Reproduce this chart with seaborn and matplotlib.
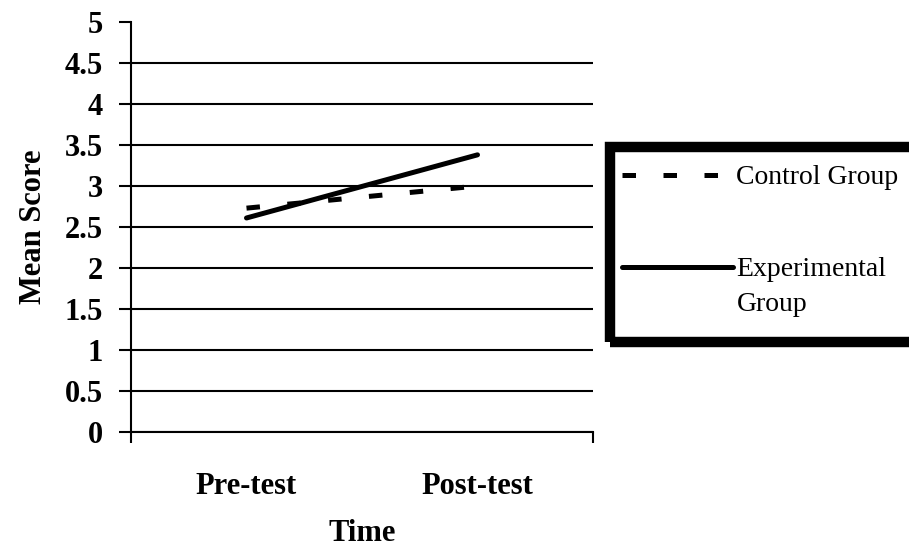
import matplotlib
matplotlib.use("Agg")
import matplotlib.pyplot as plt
from matplotlib.patches import Rectangle
import pandas as pd
import seaborn as sns

# Mean scores per group at each time point
times = ["Pre-test", "Post-test"]
control_scores = [2.73, 3.00]
experimental_scores = [2.61, 3.38]
groups = ["Control Group", "Experimental Group"]
y_ticks = [0, 0.5, 1, 1.5, 2, 2.5, 3, 3.5, 4, 4.5, 5]
y_tick_labels = ["0", "0.5", "1", "1.5", "2", "2.5", "3", "3.5", "4", "4.5", "5"]

df = pd.DataFrame({
    "Time": times * 2,
    "Mean Score": control_scores + experimental_scores,
    "Group": [groups[0]] * 2 + [groups[1]] * 2,
})

sns.set_theme(style="white")
plt.rcParams["font.family"] = ["Liberation Serif", "DejaVu Serif"]
plt.rcParams["text.color"] = "black"
plt.rcParams["axes.labelcolor"] = "black"
plt.rcParams["xtick.color"] = "black"
plt.rcParams["ytick.color"] = "black"

fig = plt.figure(figsize=(9.09, 5.5), dpi=100)
ax = fig.add_axes([131 / 909, 1 - 432 / 550, (593 - 131) / 909, (432 - 22) / 550])

sns.lineplot(
    data=df, x="Time", y="Mean Score", hue="Group", style="Group",
    palette={groups[0]: "black", groups[1]: "black"},
    dashes={groups[0]: (2.7, 5.5), groups[1]: ""},
    linewidth=3.6, ax=ax, legend=False, sort=False,
)

ax.set_xlim(-0.5, 1.5)
ax.set_ylim(0, 5)

# Y axis: bold ticks, horizontal rules at each half point (none at the top)
ax.set_yticks(y_ticks)
ax.set_yticklabels(y_tick_labels, fontsize=22, fontweight="bold")
ax.tick_params(axis="y", direction="out", length=9, width=1.5, pad=11,
               left=True)
ax.yaxis.grid(True, color="black", linewidth=1.5)
for tick_val, gl in zip(ax.get_yticks(), ax.get_ygridlines()):
    if tick_val >= 5:
        gl.set_visible(False)

# X axis: ticks only at the ends, category labels in between
ax.set_xticks([-0.5, 1.5])
ax.set_xticklabels(["", ""])
ax.tick_params(axis="x", which="major", direction="out", length=8, width=1.5,
               bottom=True)
ax.set_xticks([0, 1], minor=True)
ax.set_xticklabels(times, minor=True, fontsize=22, fontweight="bold")
ax.tick_params(axis="x", which="minor", length=0, pad=29)

for side in ["top", "right"]:
    ax.spines[side].set_visible(False)
for side in ["left", "bottom"]:
    ax.spines[side].set_color("black")
    ax.spines[side].set_linewidth(1.5)

ax.set_xlabel("Time", fontsize=22, fontweight="bold", labelpad=13)
ax.set_ylabel("Mean Score", fontsize=22, fontweight="bold", labelpad=12)

# Legend with a heavy frame running off the right edge
handles = [
    plt.Line2D([], [], color="black", linewidth=3.6, dashes=(2.7, 5.5)),
    plt.Line2D([], [], color="black", linewidth=3.6),
]
leg = fig.legend(
    handles, ["Control Group", "Experimental\nGroup"],
    loc="upper left", bbox_to_anchor=(622 / 909, 1 - 165 / 550),
    frameon=False, fontsize=20, handlelength=4.0, handletextpad=0.12,
    labelspacing=2.4, borderaxespad=0, borderpad=0,
)
for t in leg.get_texts():
    t.set_color("black")
    t.set_linespacing(1.5)
# raise the solid handle to sit beside the first line of its label
exp_line = leg.get_lines()[1]
exp_line.set_ydata([y + 14.5 for y in exp_line.get_ydata()])

frame = Rectangle((610 / 909, 1 - 342 / 550), 0.5, (342 - 147) / 550,
                  transform=fig.transFigure, fill=False, edgecolor="black",
                  linewidth=7.5, clip_on=False)
fig.patches.append(frame)

fig.savefig("out.png", dpi=100, facecolor="white")
